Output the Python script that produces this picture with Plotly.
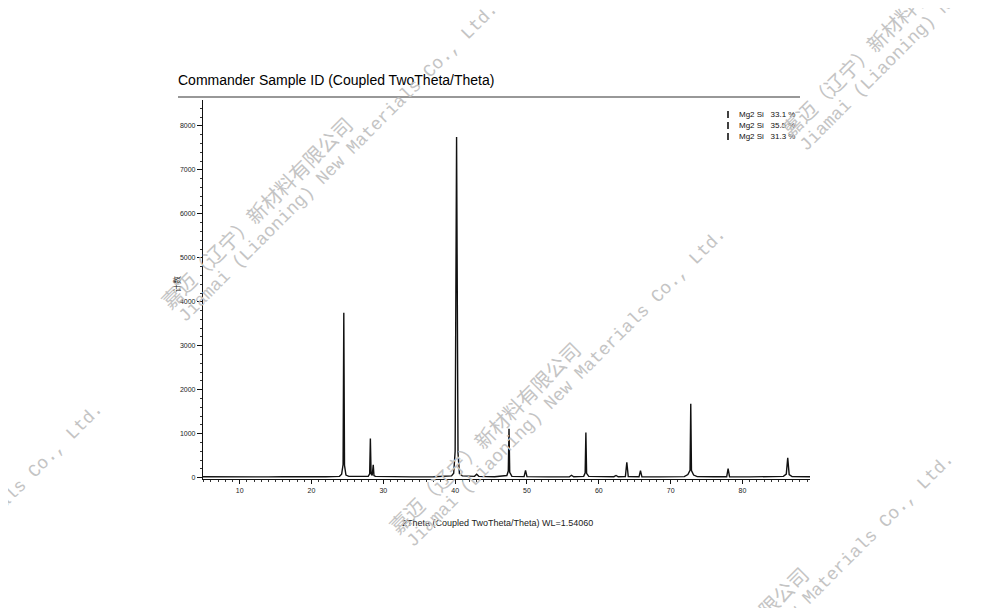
import plotly.graph_objects as go

# ---------------- data ----------------
two_theta = [4.9, 6.0, 8.0, 10.0, 12.0, 14.0, 16.0, 18.0, 20.0, 22.0,
             23.9, 24.2, 24.4, 24.5, 24.6, 24.8, 25.2, 27.0,
             27.9, 28.1, 28.2, 28.3, 28.45, 28.6, 28.7, 28.9,
             31.0, 34.0, 37.0, 39.5, 39.8, 40.0, 40.2, 40.4, 40.6, 41.0,
             42.7, 43.0, 43.3, 45.5, 47.2, 47.4, 47.5, 47.6, 47.9,
             49.6, 49.8, 50.0, 53.0, 55.9, 56.2, 56.5,
             57.9, 58.1, 58.2, 58.3, 58.6, 60.5, 62.1, 62.4, 62.7,
             63.7, 63.9, 64.1, 65.6, 65.8, 66.0, 68.5,
             71.9, 72.4, 72.7, 72.8, 72.9, 73.2, 73.7, 76.0,
             77.8, 78.0, 78.2, 81.0, 84.0, 85.7, 86.1, 86.3, 86.5, 86.9, 89.4]
counts = [20, 18, 22, 15, 20, 18, 22, 17, 20, 22,
          30, 80, 300, 3750, 280, 60, 30, 22,
          30, 90, 890, 90, 50, 295, 50, 30,
          20, 18, 22, 40, 100, 600, 7750, 560, 90, 40,
          30, 80, 30, 20, 50, 150, 1110, 120, 30,
          25, 165, 25, 18, 22, 55, 22,
          30, 110, 1030, 100, 30, 18, 22, 50, 20,
          25, 350, 25, 20, 160, 20, 18,
          25, 70, 170, 1680, 160, 60, 25, 20,
          20, 205, 20, 18, 22, 30, 80, 450, 70, 25, 20]
assert len(two_theta) == len(counts)

phase_labels = ["Mg2 Si   33.1 %", "Mg2 Si   35.5 %", "Mg2 Si   31.3 %"]
y_ticks = [0, 1000, 2000, 3000, 4000, 5000, 6000, 7000, 8000]
x_ticks = [10, 20, 30, 40, 50, 60, 70, 80]

title_text = "Commander Sample ID (Coupled TwoTheta/Theta)"
x_title = "2Theta (Coupled TwoTheta/Theta) WL=1.54060"
y_title = "计数"
wm_cn = "嘉迈（辽宁）新材料有限公司"
wm_en = "Jiamai (Liaoning) New Materials Co., Ltd."

# ---------------- layout helpers ----------------
OFF = 8  # page body margin
W, H = 1000 - OFF, 608 - OFF
ML, MT = 203 - OFF, 100 - OFF
PW, PH = 607, 379
MR, MB = W - ML - PW, H - MT - PH


def pp(px, py):
    """screen pixel -> paper coords"""
    return (px - OFF - ML) / PW, (MT + PH - (py - OFF)) / PH


fig = go.Figure()
fig.add_trace(go.Scatter(x=two_theta, y=counts, mode="lines",
                         line=dict(color="#111111", width=1.4),
                         showlegend=False, hoverinfo="skip"))

ann = []
shapes = []

# title + rule
tx, ty = pp(176, 80)
ann.append(dict(text=title_text, x=tx, y=ty, xref="paper", yref="paper",
                xanchor="left", yanchor="middle", showarrow=False,
                font=dict(family="Liberation Sans, Arial", size=14, color="#000")))
lx0, ly = pp(178, 97)
lx1, _ = pp(800, 97)
shapes.append(dict(type="line", xref="paper", yref="paper", x0=lx0, x1=lx1, y0=ly, y1=ly,
                   line=dict(color="#333", width=1.2)))

# axis titles
ax_, ay_ = pp(497, 523)
ann.append(dict(text=x_title, x=ax_, y=ay_, xref="paper", yref="paper",
                xanchor="center", yanchor="middle", showarrow=False,
                font=dict(family="Liberation Sans Narrow, Liberation Sans, Arial", size=9, color="#222")))
yx_, yy_ = pp(176, 284)
ann.append(dict(text=y_title, x=yx_, y=yy_, xref="paper", yref="paper", textangle=-90,
                xanchor="center", yanchor="middle", showarrow=False,
                font=dict(family="Noto Sans CJK SC", size=8, color="#222")))

# legend block
for i, lab in enumerate(phase_labels):
    ry = 114.5 + i * 11
    lxp, lyp = pp(737, ry)
    ann.append(dict(text=lab, x=lxp, y=lyp, xref="paper", yref="paper",
                    xanchor="left", yanchor="middle", showarrow=False,
                    font=dict(family="Liberation Sans Narrow, Liberation Sans, Arial", size=8, color="#111")))
    bx, by0 = pp(728, ry - 3.5)
    _, by1 = pp(728, ry + 3.5)
    shapes.append(dict(type="line", xref="paper", yref="paper", x0=bx, x1=bx, y0=by0, y1=by1,
                       line=dict(color="#111", width=1.6)))

# watermarks (lattice of repeated stamps)
wm_centers = [(-139, 612), (256, 212), (484, 437), (877, 41), (712, 662), (1105, 266)]
for cx, cy in wm_centers:
    x1, y1 = pp(cx, cy)
    x2, y2 = pp(cx + 82, cy - 49)
    ann.append(dict(text=wm_cn, x=x1, y=y1, xref="paper", yref="paper", textangle=-45,
                    xanchor="center", yanchor="middle", showarrow=False,
                    font=dict(family="Noto Sans CJK SC", size=20, color="#c4c4c4")))
    ann.append(dict(text=wm_en, x=x2, y=y2, xref="paper", yref="paper", textangle=-45,
                    xanchor="center", yanchor="middle", showarrow=False,
                    font=dict(family="Liberation Mono, DejaVu Sans Mono", size=18, color="#c4c4c4")))

fig.update_layout(
    width=W, height=H,
    margin=dict(l=ML, r=MR, t=MT, b=MB),
    paper_bgcolor="white", plot_bgcolor="white",
    annotations=ann, shapes=shapes,
    showlegend=False,
)
fig.update_xaxes(range=[4.9, 89.4], tickvals=x_ticks, ticktext=[str(v) for v in x_ticks],
                 showgrid=False, zeroline=False, showline=True, linecolor="#111", linewidth=1.2,
                 ticks="outside", ticklen=4, tickwidth=1, tickcolor="#111",
                 minor=dict(dtick=1, ticks="outside", ticklen=2, tickcolor="#333"),
                 tickfont=dict(family="Liberation Sans Narrow, Liberation Sans, Arial", size=7, color="#222"))
fig.update_yaxes(range=[-30, 8590], tickvals=y_ticks, ticktext=[str(v) for v in y_ticks],
                 showgrid=False, zeroline=False, showline=True, linecolor="#111", linewidth=1.2,
                 ticks="outside", ticklen=5, tickwidth=1, tickcolor="#111",
                 minor=dict(dtick=200, ticks="outside", ticklen=2, tickcolor="#333"),
                 tickfont=dict(family="Liberation Sans Narrow, Liberation Sans, Arial", size=7, color="#222"))

fig.write_html("out.html")
